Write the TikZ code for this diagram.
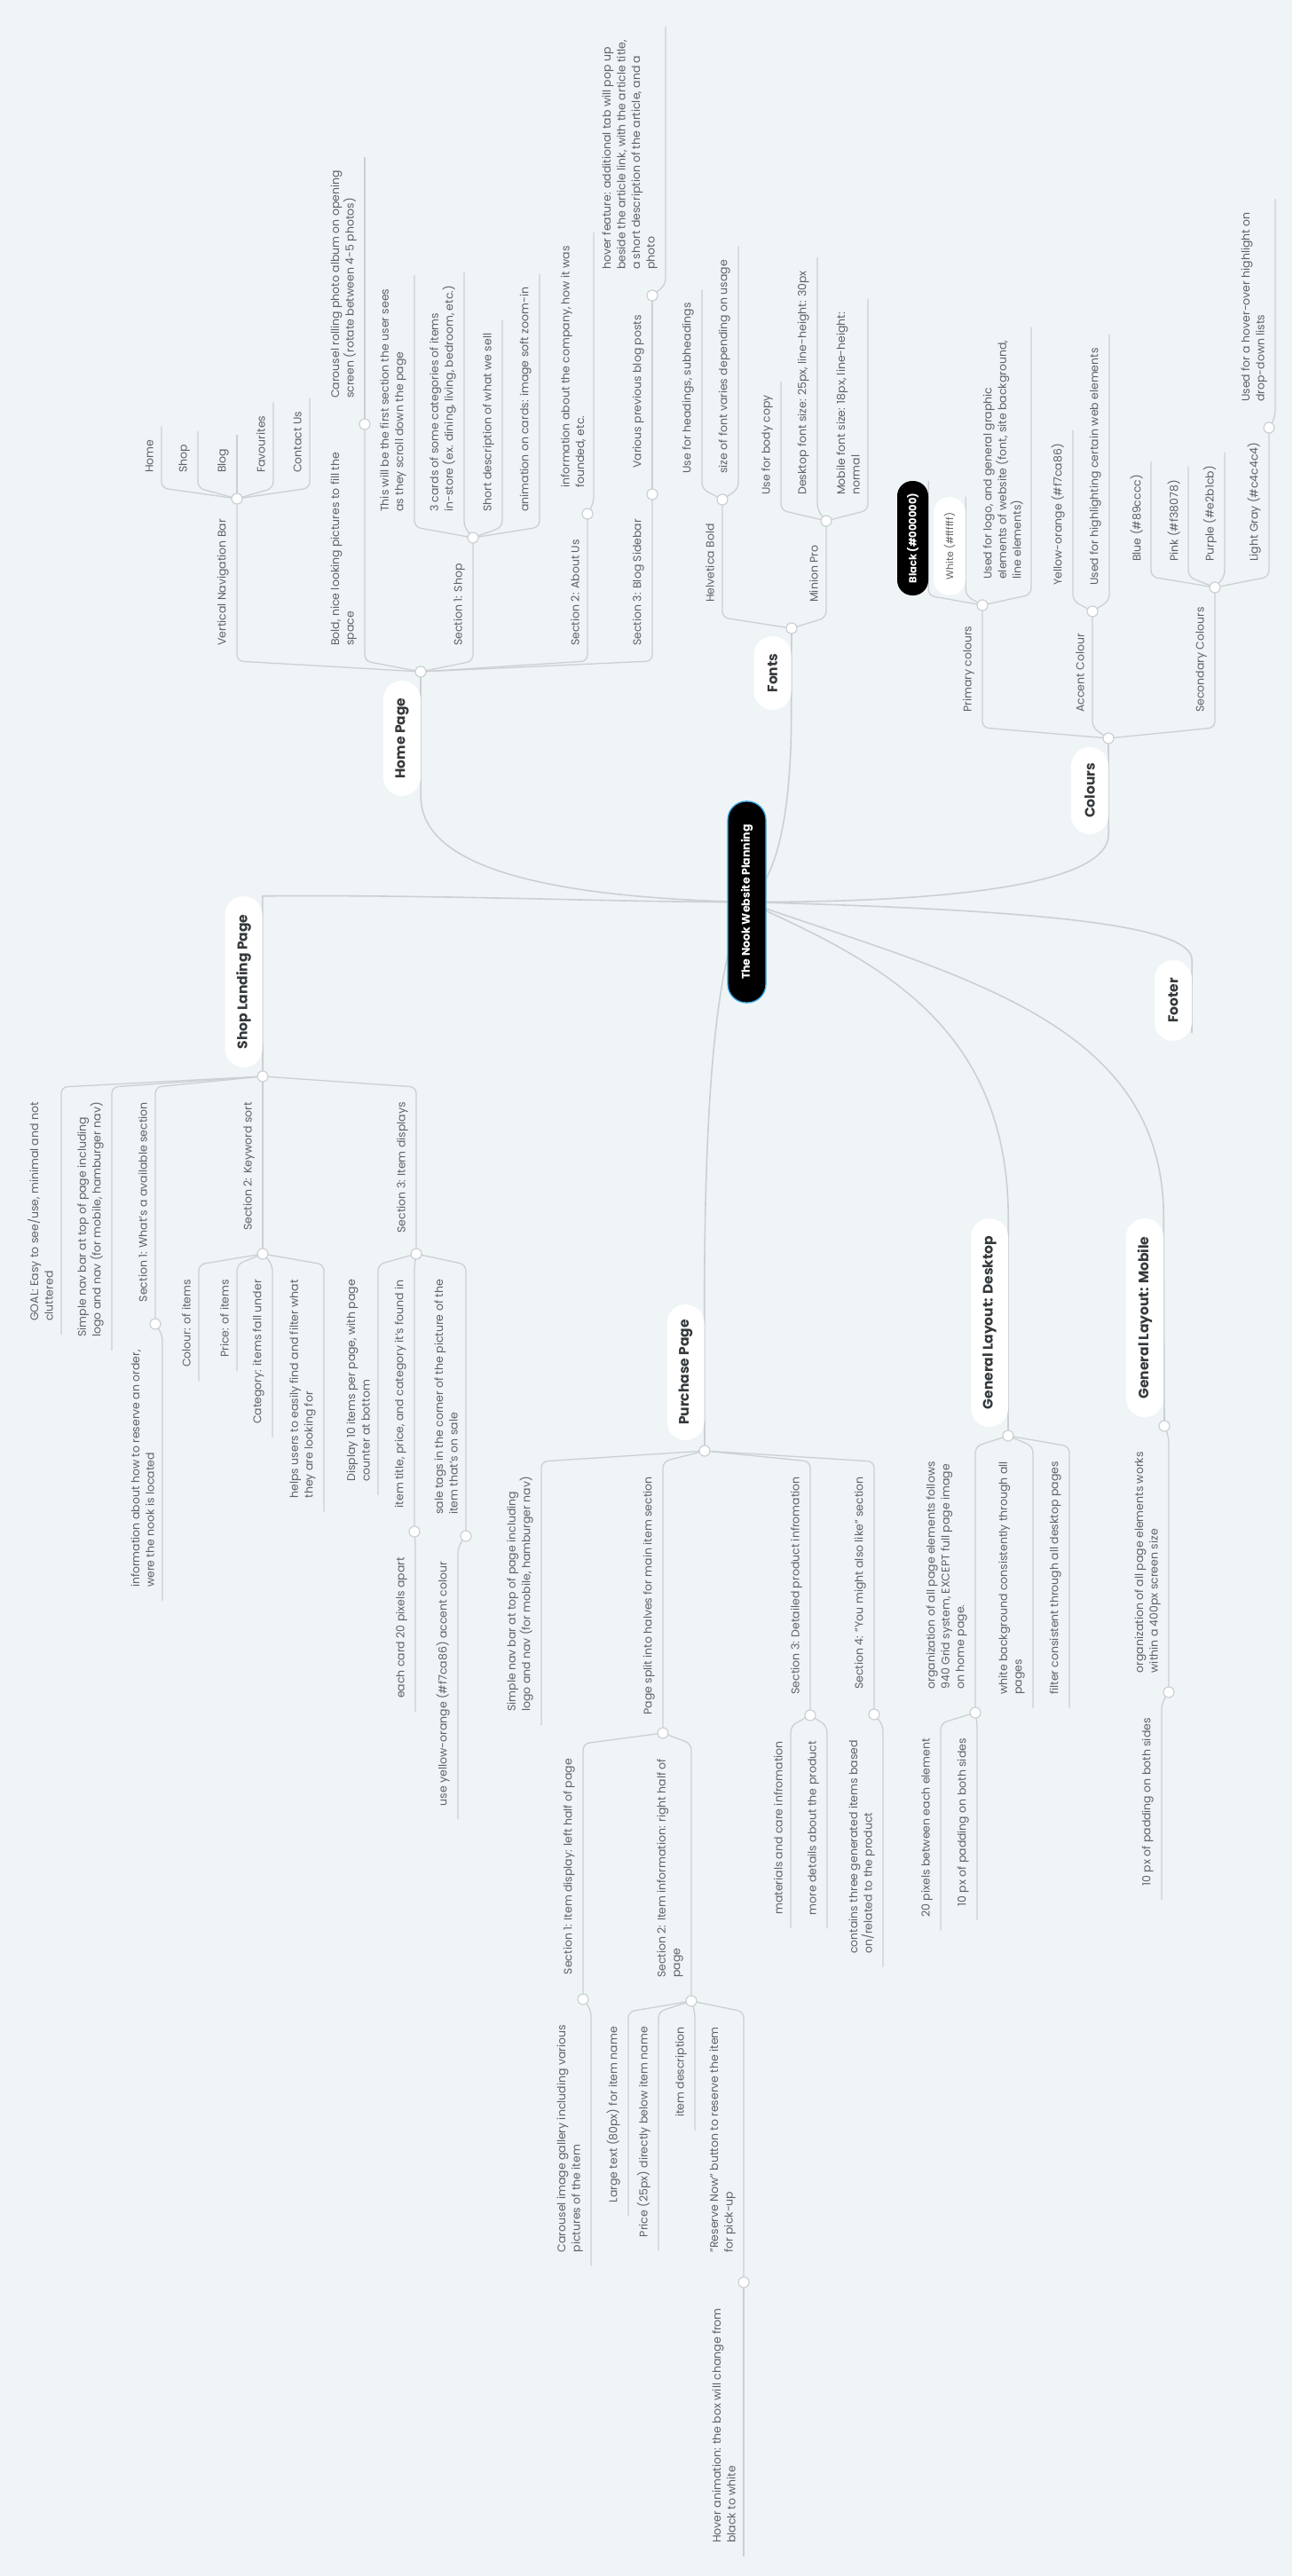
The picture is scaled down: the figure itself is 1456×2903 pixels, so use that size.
\documentclass[tikz,border=0pt]{standalone}
\usepackage{fontspec}
\setmainfont{Poppins}
\usetikzlibrary{calc}
\definecolor{bgc}{HTML}{EFF4F7}
\definecolor{lnc}{HTML}{CBD0D4}
\definecolor{txc}{HTML}{5E6266}
\definecolor{ttc}{HTML}{35393C}
\definecolor{blc}{HTML}{3AA8E4}
\pgfdeclarelayer{back}
\pgfdeclarelayer{lines}
\pgfsetlayers{back,lines,main}
\tikzset{
  tu/.style={rotate=90, anchor=south west, align=left, inner sep=1pt, text=txc, font=\fontsize{12.5}{16.5}\selectfont},
  td/.style={rotate=90, anchor=south east, align=left, inner sep=1pt, text=txc, font=\fontsize{12.5}{16.5}\selectfont},
  lnk/.style={draw=lnc, line width=1.3pt, rounded corners=7pt},
  mainln/.style={draw=lnc, line width=1.6pt},
  jc/.style={circle, draw=lnc, fill=white, line width=1.2pt, minimum size=12pt, inner sep=0pt},
  topic/.style={rotate=90, fill=white, rounded corners=21pt, inner sep=0pt, text=ttc, font=\bfseries\fontsize{15.5}{18}\selectfont, minimum height=42pt},
  central/.style={rotate=90, fill=black, draw=blc, line width=1.3pt, rounded corners=21pt, inner sep=0pt, minimum width=227pt, minimum height=43pt, text=white, font=\bfseries\fontsize{12.5}{15}\selectfont},
  blackpill/.style={rotate=90, fill=black, rounded corners=17pt, inner sep=0pt, minimum width=129pt, minimum height=35pt, text=white, font=\bfseries\fontsize{11.5}{14}\selectfont},
  whitepill/.style={rotate=90, fill=white, rounded corners=18pt, inner sep=0pt, minimum width=111pt, minimum height=36pt, text=txc, font=\fontsize{11}{14}\selectfont},
}
% up-going children (text above the bar)
\newcommand\ULeaf[5]{%
  \node[tu] (#4) at ({#3-8},{#2-28}) {#5};
  \coordinate (#4k) at (#3,{#2-12});
  \begin{pgfonlayer}{lines}
  \draw[lnk] (#1.center) -- (#4k) -- ($(#4k |- #4.east)+(0,-14)$);
  \end{pgfonlayer}}
\newcommand\UNode[7]{%
  \node[tu] (#4) at ({#3-8},{#2-28}) {#5};
  \node[jc] (#6) at (#3,#7) {};
  \coordinate (#4k) at (#3,{#2-12});
  \begin{pgfonlayer}{lines}
  \draw[lnk] (#1.center) -- (#4k) -- (#6.center);
  \end{pgfonlayer}}
% down-going children (text below the bar)
\newcommand\DLeaf[5]{%
  \node[td] (#4) at ({#3-8},{#2+28}) {#5};
  \coordinate (#4k) at (#3,{#2+12});
  \begin{pgfonlayer}{lines}
  \draw[lnk] (#1.center) -- (#4k) -- ($(#4k |- #4.west)+(0,14)$);
  \end{pgfonlayer}}
\newcommand\DNode[7]{%
  \node[td] (#4) at ({#3-8},{#2+28}) {#5};
  \node[jc] (#6) at (#3,#7) {};
  \coordinate (#4k) at (#3,{#2+12});
  \begin{pgfonlayer}{lines}
  \draw[lnk] (#1.center) -- (#4k) -- (#6.center);
  \end{pgfonlayer}}

\begin{document}
\begin{tikzpicture}[x=1pt,y=-1pt]
\begin{pgfonlayer}{back}
\fill[bgc] (0,0) rectangle (1456,2903);
\end{pgfonlayer}
\useasboundingbox (0,0) rectangle (1456,2903);

% ---------- central and main topics ----------
\node[central] (C) at (841.5,1016.5) {The Nook Website Planning};
\node[topic, minimum width=130pt] (HP) at (453,832) {Home Page};
\node[topic, minimum width=83pt] (FO) at (870.5,758.5) {Fonts};
\node[topic, minimum width=98pt] (CO) at (1228,891) {Colours};
\node[topic, minimum width=193pt] (SL) at (274.5,1106.5) {Shop Landing Page};
\node[topic, minimum width=153pt] (PP) at (772.5,1546.5) {Purchase Page};
\node[topic, minimum width=235pt] (GD) at (1115,1490.5) {General Layout: Desktop};
\node[topic, minimum width=224pt] (GM) at (1290,1485) {General Layout: Mobile};
\node[topic, minimum width=91pt] (FT) at (1322,1127.5) {Footer};

\node[jc] (JHP) at (474,757) {};
\node[jc] (JF) at (892,708) {};
\node[jc] (JCo) at (1249,832) {};
\node[jc] (JSh) at (296,1213) {};
\node[jc] (JPu) at (794,1635) {};
\node[jc] (JDe) at (1136,1618) {};
\node[jc] (JMo) at (1312,1607) {};
\coordinate (FTend) at (1343,1164);

\begin{pgfonlayer}{lines}
\draw[mainln] (C.center) .. controls (560,1010) and (474,960) .. (HP.south west) -- (JHP.center);
\draw[mainln] (C.center) .. controls (880,990) and (892,900) .. (FO.south west) -- (JF.center);
\draw[mainln] (C.center) .. controls (1050,1017) and (1249,1000) .. (CO.south west) -- (JCo.center);
\draw[mainln] (C.center) .. controls (700,1017) and (500,1008) .. (SL.south east) -- (JSh.center);
\draw[mainln] (C.center) .. controls (805,1080) and (794,1250) .. (PP.south east) -- (JPu.center);
\draw[mainln] (C.center) .. controls (980,1080) and (1136,1150) .. (GD.south east) -- (JDe.center);
\draw[mainln] (C.center) .. controls (1080,1100) and (1312,1150) .. (GM.south east) -- (JMo.center);
\draw[mainln] (C.center) .. controls (1150,1025) and (1343,1040) .. (FT.south east) -- (FTend);
\end{pgfonlayer}

% ---------- Home Page ----------
\UNode{JHP}{757}{267}{vnb}{Vertical Navigation Bar}{JVNB}{562}
\ULeaf{JVNB}{562}{182}{hm}{Home}
\ULeaf{JVNB}{562}{223}{sh}{Shop}
\ULeaf{JVNB}{562}{267}{bl}{Blog}
\ULeaf{JVNB}{562}{308}{fv}{Favourites}
\ULeaf{JVNB}{562}{349}{cu}{Contact Us}
\UNode{JHP}{757}{411}{bold}{Bold, nice looking pictures to fill the\\space}{JBold}{478}
\ULeaf{JBold}{478}{411}{car}{Carousel rolling photo album on opening\\screen (rotate between 4-5 photos)}
\UNode{JHP}{757}{533}{sa}{Section 1: Shop}{JS1}{606}
\ULeaf{JS1}{606}{467}{saa}{This will be the first section the user sees\\as they scroll down the page}
\ULeaf{JS1}{606}{523}{sab}{3 cards of some categories of items\\in-store (ex. dining, living, bedroom, etc.)}
\ULeaf{JS1}{606}{566}{sac}{Short description of what we sell}
\ULeaf{JS1}{606}{608}{sad}{animation on cards: image soft zoom-in}
\UNode{JHP}{757}{662}{sb}{Section 2: About Us}{JS2}{579}
\ULeaf{JS2}{579}{669}{sba}{information about the company, how it was\\founded, etc.}
\UNode{JHP}{757}{735}{sc}{Section 3: Blog Sidebar}{JS3}{557}
\UNode{JS3}{557}{735}{var}{Various previous blog posts}{JVar}{333}
\ULeaf{JVar}{333}{750}{hov}{hover feature: additional tab will pop up\\beside the article link, with the article title,\\a short description of the article, and a\\photo}

% ---------- Fonts ----------
\UNode{JF}{708}{814}{hb}{Helvetica Bold}{JHB}{563}
\ULeaf{JHB}{563}{791}{hba}{Use for headings, subheadings}
\ULeaf{JHB}{563}{832}{hbb}{size of font varies depending on usage}
\UNode{JF}{708}{931}{mp}{Minion Pro}{JMP}{587}
\ULeaf{JMP}{587}{880}{mpa}{Use for body copy}
\ULeaf{JMP}{587}{921}{mpb}{Desktop font size: 25px, line-height: 30px}
\ULeaf{JMP}{587}{978}{mpc}{Mobile font size: 18px, line-height:\\normal}

% ---------- Colours ----------
\UNode{JCo}{832}{1107}{pc}{Primary colours}{JPr}{682}
\node[blackpill] (Blk) at (1028.5,606.5) {Black (\#000000)};
\node[whitepill] (Wht) at (1070,615.5) {White (\#ffffff)};
\begin{pgfonlayer}{lines}
\draw[lnk] (JPr.center) -- (Blk.south west) -- (Blk.south east);
\draw[lnk] (JPr.center) -- (Wht.south west) -- (Wht.south east);
\end{pgfonlayer}
\ULeaf{JPr}{682}{1162}{pcc}{Used for logo, and general graphic\\elements of website (font, site background,\\line elements)}
\UNode{JCo}{832}{1231}{ac}{Accent Colour}{JAc}{689}
\ULeaf{JAc}{689}{1209}{aca}{Yellow-orange (\#f7ca86)}
\ULeaf{JAc}{689}{1250}{acb}{Used for highlighting certain web elements}
\UNode{JCo}{832}{1369}{sco}{Secondary Colours}{JSe}{662}
\ULeaf{JSe}{662}{1297}{scoa}{Blue (\#89cccc)}
\ULeaf{JSe}{662}{1339}{scob}{Pink (\#f38078)}
\ULeaf{JSe}{662}{1380}{scoc}{Purple (\#e2b1cb)}
\UNode{JSe}{662}{1430}{scod}{Light Gray (\#c4c4c4)}{JLG}{482}
\ULeaf{JLG}{482}{1437}{lga}{Used for a hover-over highlight on\\drop-down lists}

% ---------- Shop Landing Page ----------
\DLeaf{JSh}{1213}{69}{ga}{GOAL: Easy to see/use, minimal and not\\cluttered}
\DLeaf{JSh}{1213}{126}{gb}{Simple nav bar at top of page including\\logo and nav (for mobile, hamburger nav)}
\DNode{JSh}{1213}{175}{ssa}{Section 1: What's a available section}{JSSa}{1492}
\DLeaf{JSSa}{1492}{183}{ssaa}{information about how to reserve an order,\\were the nook is located}
\DNode{JSh}{1213}{296}{ssb}{Section 2: Keyword sort}{JSSb}{1413}
\DLeaf{JSSb}{1413}{224}{ssba}{Colour: of items}
\DLeaf{JSSb}{1413}{267}{ssbb}{Price: of items}
\DLeaf{JSSb}{1413}{307}{ssbc}{Category: items fall under}
\DLeaf{JSSb}{1413}{365}{ssbd}{helps users to easily find and filter what\\they are looking for}
\DNode{JSh}{1213}{469}{ssc}{Section 3: Item displays}{JSSc}{1413}
\DLeaf{JSSc}{1413}{426}{ssca}{Display 10 items per page, with page\\counter at bottom}
\DNode{JSSc}{1413}{467}{sscb}{item title, price, and category it's found in}{JIT}{1726}
\DLeaf{JIT}{1726}{468}{sscba}{each card 20 pixels apart}
\DNode{JSSc}{1413}{525}{sscc}{sale tags in the corner of the picture of the\\item that's on sale}{JST}{1731}
\DLeaf{JST}{1731}{516}{sscca}{use yellow-orange (\#f7ca86) accent colour}

% ---------- Purchase Page ----------
\DLeaf{JPu}{1635}{610}{pa}{Simple nav bar at top of page including\\logo and nav (for mobile, hamburger nav)}
\DNode{JPu}{1635}{747}{pb}{Page split into halves for main item section}{JPS}{1953}
\DNode{JPS}{1953}{657}{pba}{Section 1: Item display: left half of page}{JPSa}{2253}
\DLeaf{JPSa}{2253}{666}{pbaa}{Carousel image gallery including various\\pictures of the item}
\DNode{JPS}{1953}{779}{pbb}{Section 2: Item information: right half of\\page}{JPSb}{2255}
\DLeaf{JPSb}{2255}{708}{pbba}{Large text (80px) for item name}
\DLeaf{JPSb}{2255}{742}{pbbb}{Price (25px) directly below item name}
\DLeaf{JPSb}{2255}{783}{pbbc}{item description}
\DNode{JPSb}{2255}{838}{pbbd}{"Reserve Now" button to reserve the item\\for pick-up}{JRN}{2572}
\DLeaf{JRN}{2572}{838}{pbbda}{Hover animation: the box will change from\\black to white}
\DNode{JPu}{1635}{913}{pc3}{Section 3: Detailed product infromation}{JPSc}{1933}
\DLeaf{JPSc}{1933}{891}{pcca}{materials and care infromation}
\DLeaf{JPSc}{1933}{932}{pccb}{more details about the product}
\DNode{JPu}{1635}{985}{pd}{Section 4: "You might also like" section}{JPSd}{1932}
\DLeaf{JPSd}{1932}{995}{pda}{contains three generated items based\\on/related to the product}

% ---------- General Layout: Desktop ----------
\DNode{JDe}{1618}{1099}{da}{organization of all page elements follows\\940 Grid system, EXCEPT full page image\\on home page.}{JOrg}{1930}
\DLeaf{JOrg}{1930}{1060}{daa}{20 pixels between each element}
\DLeaf{JOrg}{1930}{1101}{dab}{10 px of padding on both sides}
\DLeaf{JDe}{1618}{1164}{db}{white background consistently through all\\pages}
\DLeaf{JDe}{1618}{1205}{dc}{filter consistent through all desktop pages}

% ---------- General Layout: Mobile ----------
\DNode{JMo}{1607}{1317}{ma}{organization of all page elements works\\within a 400px screen size}{JOrgM}{1907}
\DLeaf{JOrgM}{1907}{1309}{maa}{10 px of padding on both sides}
\end{tikzpicture}
\end{document}
